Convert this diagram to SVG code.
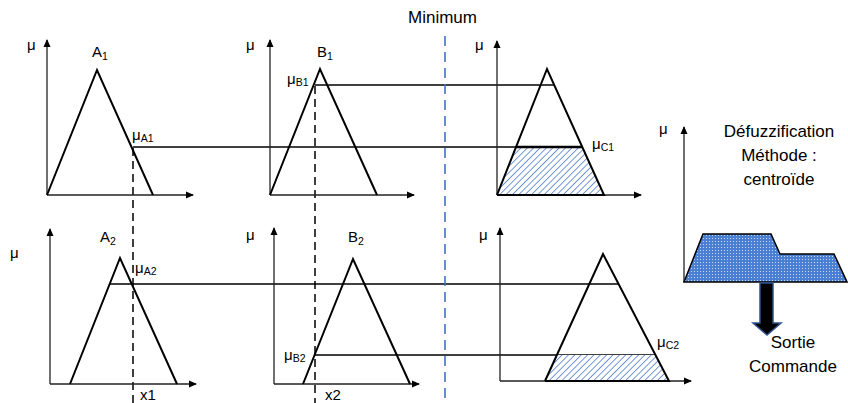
<svg xmlns="http://www.w3.org/2000/svg" width="848" height="403" viewBox="0 0 848 403">
<style>
text{font-family:"Liberation Sans",Arial,sans-serif;fill:#000}
.lb{font-size:15px}
.sb{font-size:10.5px}
.big{font-size:17px}
.ax{stroke:#222;stroke-width:1.3;fill:none;marker-end:url(#ah)}
.tri{stroke:#000;stroke-width:2;fill:none;stroke-linejoin:miter}
.hl{stroke:#000;stroke-width:1.5;fill:none}
.dash{stroke:#000;stroke-width:1.5;stroke-dasharray:8 5;fill:none}
.hatch{fill:url(#hp);stroke:none}
</style>
<defs>
<marker id="ah" markerWidth="8" markerHeight="8" refX="7" refY="4" orient="auto" markerUnits="userSpaceOnUse">
<path d="M0,0.5 L8,4 L0,7.5 Z" fill="#000"/>
</marker>
<pattern id="hp" width="4.5" height="4.5" patternUnits="userSpaceOnUse" patternTransform="rotate(45)">
<rect width="4.5" height="4.5" fill="#fff"/>
<line x1="0" y1="0" x2="0" y2="4.5" stroke="#3a6cc8" stroke-width="1.4"/>
</pattern>
<pattern id="dp" width="3" height="3" patternUnits="userSpaceOnUse">
<rect width="3" height="3" fill="#4a7fd4"/>
<rect x="1" y="1" width="1" height="1" fill="#c9d8f2"/>
</pattern>
</defs>
<rect width="848" height="403" fill="#fff"/>

<g id="connectors">
<line class="hl" x1="133" y1="147" x2="583" y2="147"/>
<line class="hl" x1="315" y1="85" x2="554" y2="85"/>
<line class="hl" x1="110" y1="284" x2="618" y2="284"/>
<line class="hl" x1="315" y1="355" x2="655" y2="355"/>
<line class="dash" x1="133" y1="148" x2="133" y2="403"/>
<line class="dash" x1="315" y1="86" x2="315" y2="403"/>
<line x1="445" y1="36" x2="445" y2="403" stroke="#4472c4" stroke-width="1.6" stroke-dasharray="10 6"/>
</g>

<g id="minimum">
<text class="big" x="408" y="23">Minimum</text>
</g>

<g id="panelA1">
<line class="ax" x1="47" y1="195" x2="47" y2="40"/>
<line class="ax" x1="47" y1="195" x2="193" y2="195"/>
<polyline class="tri" points="47,195 97,70 153,195"/>
<text class="lb" x="27" y="50">μ</text>
<text class="lb" x="92" y="57">A<tspan class="sb" dy="3">1</tspan></text>
<text class="lb" x="132" y="140">μ<tspan class="sb" dy="2">A1</tspan></text>
</g>

<g id="panelB1">
<line class="ax" x1="270" y1="195" x2="270" y2="40"/>
<line class="ax" x1="270" y1="195" x2="414" y2="195"/>
<polyline class="tri" points="270,195 320,69 377,195"/>
<text class="lb" x="246" y="50">μ</text>
<text class="lb" x="317" y="57">B<tspan class="sb" dy="3">1</tspan></text>
<text class="lb" x="287" y="84">μ<tspan class="sb" dy="2">B1</tspan></text>
</g>

<g id="panelC1">
<line class="ax" x1="497" y1="195" x2="497" y2="41"/>
<line class="ax" x1="497" y1="195" x2="641" y2="195"/>
<polygon class="hatch" points="497,195 516,147 583,147 604,195"/>
<polyline class="tri" points="497,195 547,69 604,195 497,195"/>
<line x1="516" y1="147" x2="583" y2="147" stroke="#000" stroke-width="2.5"/>
<text class="lb" x="475" y="50">μ</text>
<text class="lb" x="592" y="149">μ<tspan class="sb" dy="2">C1</tspan></text>
</g>

<g id="panelA2">
<line class="ax" x1="50" y1="384" x2="50" y2="229"/>
<line class="ax" x1="50" y1="384" x2="196" y2="384"/>
<polyline class="tri" points="70,384 120,258 177,384"/>
<text class="lb" x="10" y="258">μ</text>
<text class="lb" x="100" y="242">A<tspan class="sb" dy="3">2</tspan></text>
<text class="lb" x="135" y="273">μ<tspan class="sb" dy="2">A2</tspan></text>
<text class="lb" x="140" y="400">x1</text>
</g>

<g id="panelB2">
<line class="ax" x1="274" y1="384" x2="274" y2="228"/>
<line class="ax" x1="274" y1="384" x2="419" y2="384"/>
<polyline class="tri" points="303,384 353,259 410,384"/>
<text class="lb" x="246" y="240">μ</text>
<text class="lb" x="348" y="242">B<tspan class="sb" dy="3">2</tspan></text>
<text class="lb" x="284" y="360">μ<tspan class="sb" dy="2">B2</tspan></text>
<text class="lb" x="325" y="400">x2</text>
</g>

<g id="panelC2">
<line class="ax" x1="500" y1="381" x2="500" y2="228"/>
<line class="ax" x1="500" y1="381" x2="691" y2="381"/>
<polygon class="hatch" points="545,381 557,355 655,355 669,381"/>
<polyline class="tri" points="545,381 603,254 669,381 545,381"/>
<text class="lb" x="479" y="240">μ</text>
<text class="lb" x="657" y="347">μ<tspan class="sb" dy="2">C2</tspan></text>
</g>

<g id="defuzz">
<line class="ax" x1="684" y1="282" x2="684" y2="127"/>
<polygon points="684,282 703,234 771,234 780,254 834,254 847,282" fill="url(#dp)" stroke="#000" stroke-width="1.5"/>
<text class="lb" x="659" y="134">μ</text>
<text class="big" x="779" y="137" text-anchor="middle">Défuzzification</text>
<text class="big" x="779" y="161" text-anchor="middle">Méthode :</text>
<text class="big" x="779" y="185" text-anchor="middle">centroïde</text>
</g>

<g id="output">
<polygon points="760,283 773,283 773,323 781,323 767,335 753,323 760,323" fill="#000" stroke="#2f528f" stroke-width="1.5"/>
<text class="big" x="793" y="348" text-anchor="middle">Sortie</text>
<text class="big" x="793" y="372" text-anchor="middle">Commande</text>
</g>
</svg>
